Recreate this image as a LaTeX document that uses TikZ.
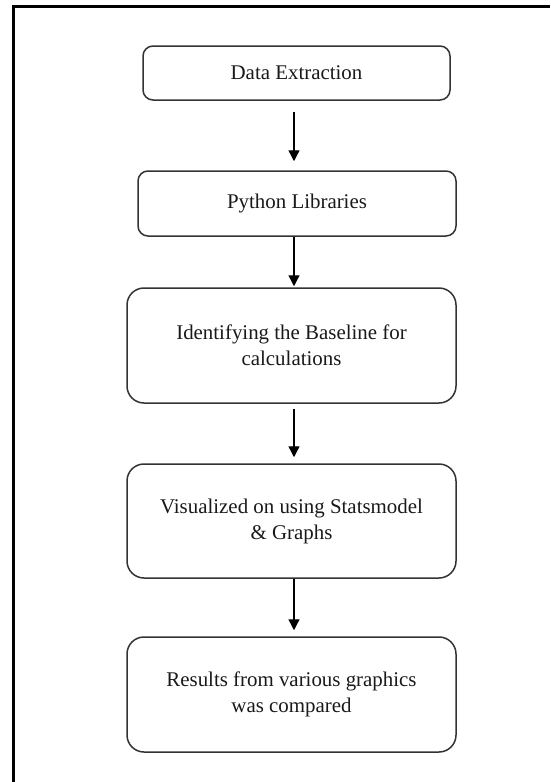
\documentclass[tikz,border=0pt]{standalone}
\usepackage{fontspec}
\setmainfont{Liberation Serif}
\usetikzlibrary{arrows.meta}
\begin{document}
\begin{tikzpicture}[x=1pt,y=-1pt,
  stepbox/.style={draw=black!80, line width=1.5pt, rounded corners=#1, rectangle,
    align=center, inner sep=0pt, font=\fontsize{20.9}{26}\selectfont, text=black!90},
  arr/.style={line width=1.3pt, -{Triangle[length=11pt,width=11pt]}}]
\useasboundingbox (0,0) rectangle (550,782);
\draw[line width=3pt] (13,782) -- (13,6.5) -- (550,6.5);
\node[stepbox=10pt, minimum width=307pt, minimum height=54pt] (a) at (296.5,73) {Data Extraction};
\node[stepbox=10pt, minimum width=318pt, minimum height=65pt] (b) at (297,203.5) {Python Libraries};
\node[stepbox=17pt, minimum width=329pt, minimum height=115pt] (c) at (291.5,345.5) {Identifying the Baseline for\\calculations};
\node[stepbox=17pt, minimum width=329pt, minimum height=114pt] (d) at (291.5,521) {Visualized on using Statsmodel\\\& Graphs};
\node[stepbox=17pt, minimum width=329pt, minimum height=115pt] (e) at (291.5,694.5) {Results from various graphics\\was compared};
\coordinate (ax) at (294,0);
\draw[arr, shorten <=11pt, shorten >=9pt] (a.south -| ax) -- (b.north -| ax);
\draw[arr, shorten <=0pt, shorten >=1pt] (b.south -| ax) -- (c.north -| ax);
\draw[arr, shorten <=5pt, shorten >=6pt] (c.south -| ax) -- (d.north -| ax);
\draw[arr, shorten <=0pt, shorten >=6pt] (d.south -| ax) -- (e.north -| ax);
\end{tikzpicture}
\end{document}
